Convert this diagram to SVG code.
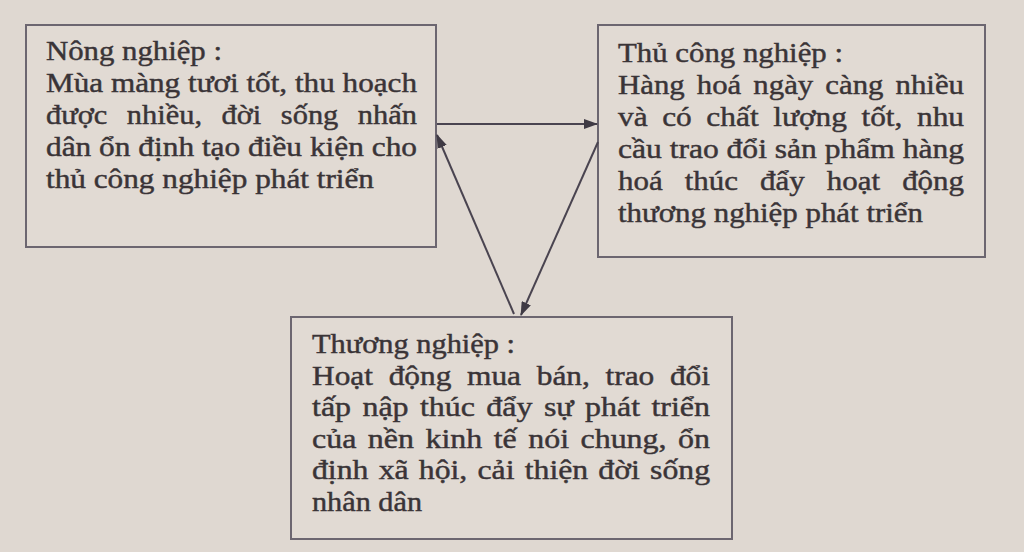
<svg xmlns="http://www.w3.org/2000/svg" width="1024" height="552" viewBox="0 0 1024 552">
<style>
.box{fill:#e1dad3;stroke:#6c6670;stroke-width:2}
.t{font-family:"Liberation Serif","Times New Roman",serif;font-size:28px;fill:#3a3437;stroke:#3a3437;stroke-width:0.45}
.c{stroke:#4a4450;stroke-width:2;fill:none}
</style>
<defs>
<marker id="ah" viewBox="0 0 14 10" refX="13" refY="5" markerWidth="14" markerHeight="10" markerUnits="userSpaceOnUse" orient="auto">
<path d="M0,0 L14,5 L0,10 Z" fill="#3f3a44"/>
</marker>
</defs>
<rect width="1024" height="552" fill="#dfd8d1"/>
<g id="nong-nghiep">
<rect class="box" x="26" y="25" width="410" height="222"/>
<text class="t" x="46" y="60" textLength="176" lengthAdjust="spacingAndGlyphs">Nông nghiệp :</text>
<text class="t" x="46" y="92" textLength="371" lengthAdjust="spacingAndGlyphs">Mùa màng tươi tốt, thu hoạch</text>
<text class="t" x="46" y="124" word-spacing="11" textLength="371" lengthAdjust="spacingAndGlyphs">được nhiều, đời sống nhấn</text>
<text class="t" x="46" y="156" textLength="371" lengthAdjust="spacingAndGlyphs">dân ổn định tạo điều kiện cho</text>
<text class="t" x="46" y="188" textLength="328" lengthAdjust="spacingAndGlyphs">thủ công nghiệp phát triển</text>
</g>
<g id="thu-cong-nghiep">
<rect class="box" x="598" y="25" width="387" height="232"/>
<text class="t" x="618" y="62" textLength="225" lengthAdjust="spacingAndGlyphs">Thủ công nghiệp :</text>
<text class="t" x="618" y="94" word-spacing="4" textLength="346" lengthAdjust="spacingAndGlyphs">Hàng hoá ngày càng nhiều</text>
<text class="t" x="618" y="126" word-spacing="6" textLength="346" lengthAdjust="spacingAndGlyphs">và có chất lượng tốt, nhu</text>
<text class="t" x="618" y="158" textLength="346" lengthAdjust="spacingAndGlyphs">cầu trao đổi sản phẩm hàng</text>
<text class="t" x="618" y="190" word-spacing="13" textLength="346" lengthAdjust="spacingAndGlyphs">hoá thúc đẩy hoạt động</text>
<text class="t" x="618" y="222" textLength="305" lengthAdjust="spacingAndGlyphs">thương nghiệp phát triển</text>
</g>
<g id="thuong-nghiep">
<rect class="box" x="291" y="317" width="441" height="222"/>
<text class="t" x="312" y="353" textLength="203" lengthAdjust="spacingAndGlyphs">Thương nghiệp :</text>
<text class="t" x="312" y="385" word-spacing="7" textLength="398" lengthAdjust="spacingAndGlyphs">Hoạt động mua bán, trao đổi</text>
<text class="t" x="312" y="416" word-spacing="3" textLength="398" lengthAdjust="spacingAndGlyphs">tấp nập thúc đẩy sự phát triển</text>
<text class="t" x="312" y="448" word-spacing="3" textLength="398" lengthAdjust="spacingAndGlyphs">của nền kinh tế nói chung, ổn</text>
<text class="t" x="312" y="479" word-spacing="2" textLength="398" lengthAdjust="spacingAndGlyphs">định xã hội, cải thiện đời sống</text>
<text class="t" x="312" y="511" textLength="110" lengthAdjust="spacingAndGlyphs">nhân dân</text>
</g>
<g id="connectors">
<line class="c" x1="437" y1="124" x2="597" y2="124" marker-end="url(#ah)"/>
<line class="c" x1="598" y1="142" x2="521" y2="315" marker-end="url(#ah)"/>
<line class="c" x1="514" y1="314" x2="437" y2="135" marker-end="url(#ah)"/>
</g>
</svg>
